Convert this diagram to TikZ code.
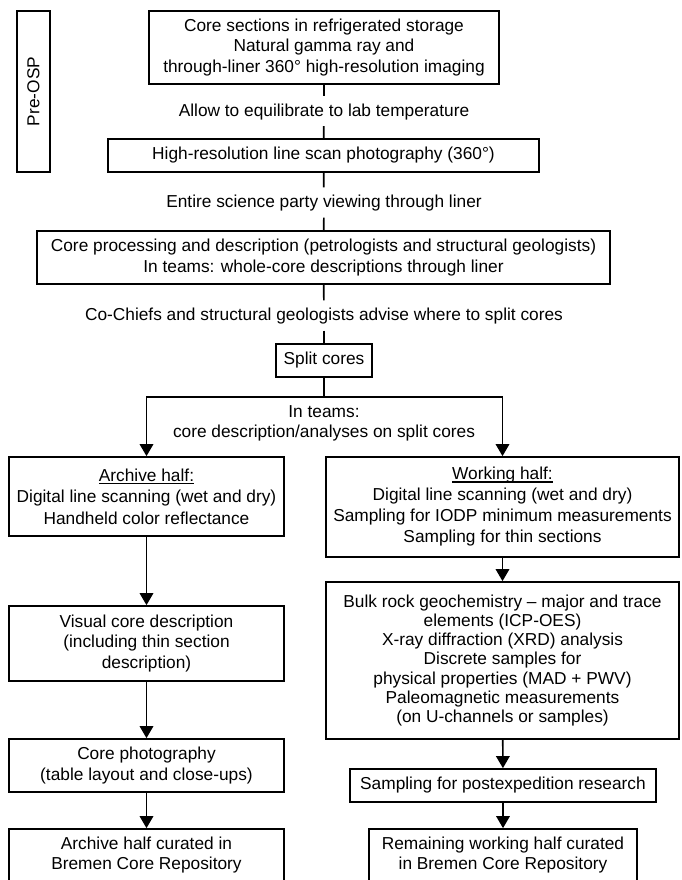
\documentclass[tikz,border=0pt]{standalone}
\usepackage{fontspec}
\setmainfont{Liberation Sans}
\usetikzlibrary{arrows.meta}
\newcommand\myul[1]{\setbox0=\hbox{#1}\rlap{\rule[-2.6pt]{\wd0}{1.2pt}}\box0}
\begin{document}
\begin{tikzpicture}[x=1pt,y=-1pt,
  line width=1.7pt,
  txt/.style={font=\fontsize{17.3}{20.5}\selectfont, align=center},
  box/.style={txt, draw, inner sep=0pt},
  lbl/.style={txt, inner xsep=2pt, inner ysep=5.5pt, text height=14pt, text depth=3.6pt},
  arr/.style={-{Triangle[width=13.5pt,length=12pt]}}]
\useasboundingbox (0,0) rectangle (681,880);

% Pre-OSP
\node[box, rotate=90, minimum width=161pt, minimum height=33pt] (pre) at (33.5,91.5) {Pre-OSP};

% main spine
\node[box, minimum width=350pt, minimum height=73pt] (b1) at (324,47.5)
  {Core sections in refrigerated storage\\Natural gamma ray and\\through-liner 360° high-resolution imaging};
\node[lbl] (l1) at (324,111) {Allow to equilibrate to lab temperature};
\node[box, minimum width=431pt, minimum height=33pt] (b2) at (323.5,155.5)
  {High-resolution line scan photography (360°)};
\node[lbl] (l2) at (324,202.5) {Entire science party viewing through liner};
\node[box, minimum width=573pt, minimum height=53pt] (b3) at (323.5,257.5)
  {Core processing and description (petrologists and structural geologists)\\In teams: whole-core descriptions through liner};
\node[lbl] (l3) at (324,315.5) {Co-Chiefs and structural geologists advise where to split cores};
\node[box, minimum width=96pt, minimum height=33pt] (split) at (324,360.5) {Split cores};

\coordinate (fork) at (324,397);
\node[txt] (teams) at (324,423.5) {In teams:\\core description/analyses on split cores};

% archive column
\node[box, minimum width=275pt, minimum height=79pt, font=\fontsize{17.3}{21.5}\selectfont] (arch) at (146.5,496.5)
  {\myul{Archive half:}\\Digital line scanning (wet and dry)\\Handheld color reflectance};
\node[box, minimum width=275pt, minimum height=75pt] (vis) at (146.5,643.5)
  {Visual core description\\(including thin section\\description)};
\node[box, minimum width=275pt, minimum height=53pt] (photo) at (146.5,765.5)
  {Core photography\\(table layout and close-ups)};
\node[box, minimum width=275pt, minimum height=52pt] (acur) at (146.5,855)
  {Archive half curated in\\Bremen Core Repository};

% working column
\node[box, minimum width=353pt, minimum height=100pt, font=\fontsize{17.3}{21}\selectfont] (work) at (502.5,507)
  {\myul{Working half:}\\Digital line scanning (wet and dry)\\Sampling for IODP minimum measurements\\Sampling for thin sections};
\node[box, minimum width=353pt, minimum height=157pt, font=\fontsize{17.3}{19.2}\selectfont] (bulk) at (502.5,660.5)
  {Bulk rock geochemistry -- major and trace\\elements (ICP-OES)\\X-ray diffraction (XRD) analysis\\Discrete samples for\\physical properties (MAD + PWV)\\Paleomagnetic measurements\\(on U-channels or samples)};
\node[box, minimum width=306pt, minimum height=33pt] (samp) at (503,785.5)
  {Sampling for postexpedition research};
\node[box, minimum width=268pt, minimum height=52pt] (rem) at (503,855)
  {Remaining working half curated\\in Bremen Core Repository};

% connectors
\draw (b1) -- (l1);
\draw (l1) -- (b2);
\draw (b2) -- (l2);
\draw (l2) -- (b3);
\draw (b3) -- (l3);
\draw (l3) -- (split);
\draw (split.south) -- (fork);
\draw[arr] (fork) -| (arch.north);
\draw[arr] (fork) -| (work.north);
\draw[arr] (arch) -- (vis);
\draw[arr] (vis) -- (photo);
\draw[arr] (photo) -- (acur);
\draw[arr] (work) -- (bulk);
\draw[arr] (bulk) -- (samp);
\draw[arr] (samp) -- (rem);
\end{tikzpicture}
\end{document}
